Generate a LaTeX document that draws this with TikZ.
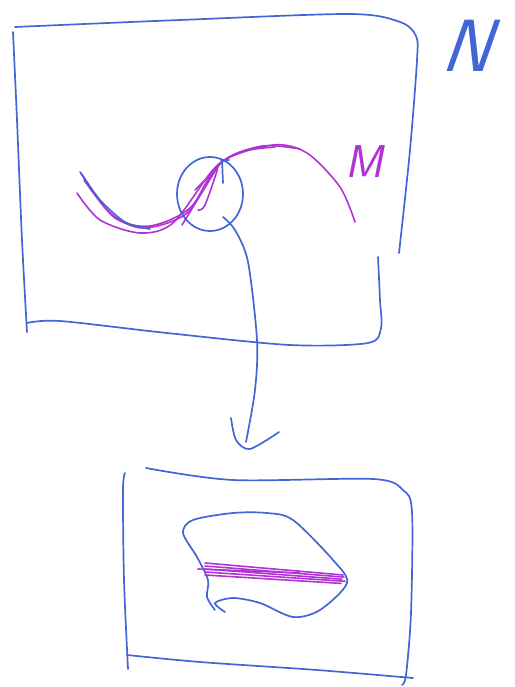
\documentclass[tikz,border=0pt]{standalone}
\usepackage{tikz}
\definecolor{penblue}{RGB}{66,102,214}
\definecolor{penpurple}{RGB}{176,52,212}
\begin{document}
\begin{tikzpicture}[x=1pt, y=-1pt,
    blueink/.style={draw=penblue, line width=1.7pt, line cap=round, line join=round},
    purpleink/.style={draw=penpurple, line width=1.6pt, line cap=round, line join=round},
    letter/.style={inner sep=0pt, transform shape}]

        \useasboundingbox (0,0) rectangle (514,687);

        % Big frame N
        \draw[blueink] plot[smooth] coordinates {(13,32) (17,120) (22,240) (27,332)};
        \draw[blueink] plot[smooth] coordinates {(15,27) (180,20) (350,14) (400,22) (416,36) (417,60) (410,150) (399,253)};
        \draw[blueink] plot[smooth] coordinates {(378,257) (380,300) (381,328) (368,343) (290,345) (167,333) (60,321) (27,323)};
        \begin{scope}[xslant=0.35]
        \node[letter, text=penblue, font=\sffamily\fontsize{74}{74}\selectfont] (labelN) at (490,46) {N};
        \end{scope}

        % Submanifold M
        \draw[purpleink] plot[smooth] coordinates {(80,172) (110,213) (143,228) (187,213) (220,163) (273,145) (307,153) (340,187) (355,222)};
        \draw[purpleink] plot[smooth] coordinates {(77,193) (100,220) (140,233) (173,223) (213,170) (240,152) (275,147)};
        \draw[purpleink] plot[smooth] coordinates {(84,180) (115,218) (150,226) (190,208) (222,162) (262,146) (300,149)};
        \draw[purpleink] (182,225) -- (220,163);
        \draw[purpleink] plot[smooth] coordinates {(195,190) (205,180) (218,166) (205,205) (198,210)};
        \draw[blueink] plot[smooth] coordinates {(81,173) (100,200) (125,222) (150,229)};
        \begin{scope}[xslant=0.2]
        \node[letter, text=penpurple, font=\sffamily\fontsize{46}{46}\selectfont] (labelM) at (400,162) {M};
        \end{scope}

        % Neighbourhood
        \draw[blueink] (210,194) ellipse[x radius=33, y radius=37];
        \draw[blueink] (222,160) -- (223,183);
        \draw[blueink] (221,160) -- (229,160);

        % Chart arrow
        \draw[blueink] plot[smooth] coordinates {(223,217) (235,230) (248,262) (257,340) (255,390) (246,442)};
        \draw[blueink] plot[smooth] coordinates {(231,418) (236,440) (250,449) (279,432)};

        % Chart frame
        \draw[blueink] plot[smooth] coordinates {(125,473) (123,490) (124,580) (128,669)};
        \draw[blueink] plot[smooth] coordinates {(146,468) (233,480) (373,479) (403,490) (412,512) (411,613) (406,675) (402,685)};
        \draw[blueink] plot[smooth] coordinates {(127,655) (200,662) (317,670) (413,678)};

        % Image of the neighbourhood
        \draw[blueink] plot[smooth] coordinates {(225,612) (215,603) (233,598) (260,603) (293,617) (320,610) (347,583) (333,560) (293,520) (267,513) (233,513) (193,520) (183,533) (197,557) (208,580) (207,597) (215,610)};

        % Flattened piece of M
        \foreach \dy/\l in {0/343, 3/344, 6/342, 9/345, 12/341}
            \draw[purpleink] (205,563+\dy) -- (\l,575+\dy*0.7);
        \draw[purpleink] (198,569) -- (300,573);

\end{tikzpicture}
\end{document}
